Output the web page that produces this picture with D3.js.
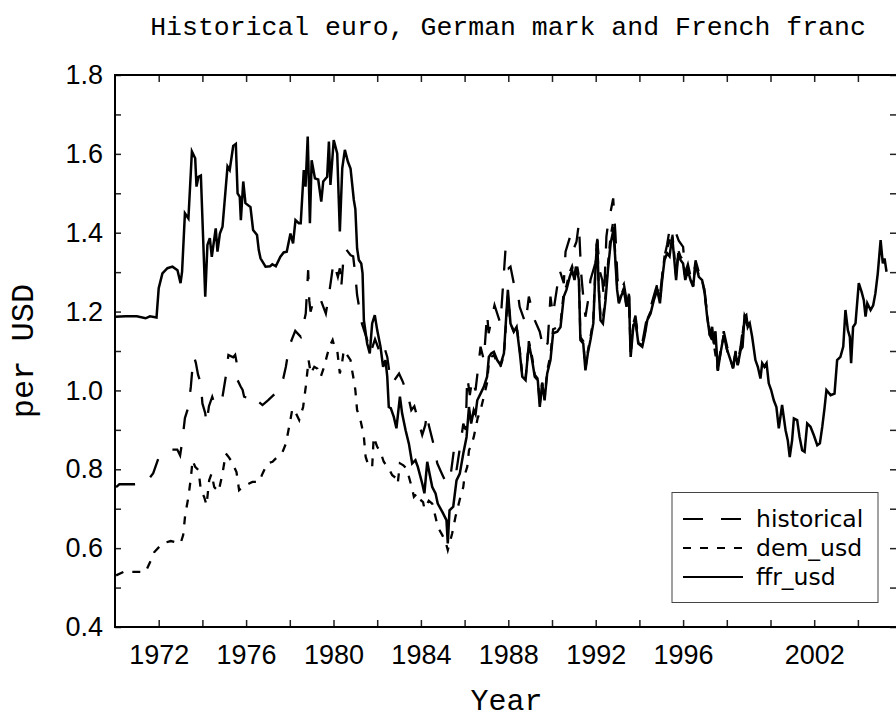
<!DOCTYPE html>
<html>
<head>
<meta charset="utf-8">
<script src="https://cdn.jsdelivr.net/npm/d3@7"></script>
<style>
  body { margin: 0; background: #fff; }
  .tick text { font-family: 'Liberation Sans', sans-serif; font-size: 27px; fill: #000; }
  .tick line { stroke: #222; stroke-width: 1.5; }
  .domain { display: none; }
</style>
</head>
<body>
<div id="chart"></div>
<script>
// series names, in legend order
const seriesNames = ['historical', 'dem_usd', 'ffr_usd'];

// [year, value per USD]
const historical = [
  [1970.05, 0.755], [1970.2, 0.762], [1970.9, 0.762], [1971.4, 0.765], [1971.75, 0.79], [1972.0, 0.83],
  [1972.5, 0.85], [1972.85, 0.85], [1972.98, 0.835], [1973.08, 0.872], [1973.2, 0.93], [1973.36, 0.958],
  [1973.47, 1.009], [1973.55, 1.06], [1973.62, 1.085], [1973.7, 1.07], [1973.8, 1.04], [1973.93, 1.018],
  [1974.0, 0.967], [1974.13, 0.942], [1974.19, 0.916], [1974.3, 0.96], [1974.45, 0.984], [1974.58, 0.962],
  [1974.69, 0.975], [1974.92, 0.984], [1975.07, 1.035], [1975.19, 1.09], [1975.41, 1.084], [1975.5, 1.09],
  [1975.56, 1.073], [1975.61, 1.026], [1975.75, 1.01], [1975.84, 1.001], [1975.91, 0.984], [1976.1, 0.98],
  [1976.41, 0.988], [1976.6, 0.97], [1976.75, 0.963], [1977.0, 0.975], [1977.33, 0.992], [1977.51, 1.009],
  [1977.7, 1.03], [1977.82, 1.06], [1977.97, 1.111], [1978.1, 1.13], [1978.25, 1.151], [1978.5, 1.136],
  [1978.73, 1.195], [1978.84, 1.305], [1978.89, 1.229], [1978.95, 1.2], [1979.1, 1.23], [1979.25, 1.22],
  [1979.42, 1.229], [1979.65, 1.195], [1979.8, 1.246], [1979.9, 1.285], [1980.0, 1.326], [1980.2, 1.288],
  [1980.29, 1.31], [1980.35, 1.259], [1980.45, 1.33], [1980.55, 1.36], [1980.78, 1.343], [1980.9, 1.34],
  [1981.0, 1.293], [1981.08, 1.242], [1981.3, 1.17], [1981.54, 1.128], [1981.69, 1.094], [1981.9, 1.13],
  [1982.1, 1.1], [1982.27, 1.12], [1982.46, 1.085], [1982.55, 1.05], [1982.69, 1.018], [1983.0, 1.043],
  [1983.14, 1.026], [1983.4, 0.99], [1983.56, 0.95], [1983.7, 0.96], [1983.83, 0.933], [1984.06, 0.887],
  [1984.2, 0.912], [1984.28, 0.942], [1984.36, 0.912], [1984.59, 0.861], [1984.75, 0.815], [1984.95, 0.79],
  [1985.17, 0.764], [1985.35, 0.78], [1985.5, 0.844], [1985.63, 0.798], [1985.8, 0.86], [1985.94, 0.916],
  [1986.05, 0.9], [1986.12, 1.035], [1986.24, 0.988], [1986.35, 1.03], [1986.5, 1.0], [1986.73, 1.111],
  [1986.88, 1.077], [1987.03, 1.195], [1987.1, 1.145], [1987.37, 1.216], [1987.64, 1.17], [1987.87, 1.356],
  [1988.02, 1.31], [1988.1, 1.314], [1988.25, 1.272], [1988.41, 1.259], [1988.52, 1.212], [1988.79, 1.17],
  [1988.94, 1.238], [1989.09, 1.204], [1989.21, 1.178], [1989.44, 1.149], [1989.62, 1.102], [1989.8, 1.12],
  [1989.93, 1.238], [1990.04, 1.191], [1990.35, 1.305], [1990.54, 1.272], [1990.62, 1.352], [1990.85, 1.394],
  [1991.0, 1.36], [1991.12, 1.377], [1991.23, 1.424], [1991.33, 1.3], [1991.43, 1.238], [1991.53, 1.187],
  [1991.68, 1.238], [1991.76, 1.28], [1991.96, 1.318], [1992.07, 1.381], [1992.2, 1.3], [1992.3, 1.28],
  [1992.38, 1.234], [1992.49, 1.39], [1992.6, 1.437], [1992.68, 1.453], [1992.8, 1.487], [1992.9, 1.4],
  [1993.0, 1.28], [1993.1, 1.25], [1993.29, 1.27], [1993.41, 1.23], [1993.52, 1.26], [1993.6, 1.11],
  [1993.72, 1.17], [1993.82, 1.19], [1993.95, 1.13], [1994.13, 1.12], [1994.23, 1.15], [1994.36, 1.19],
  [1994.51, 1.21], [1994.66, 1.24], [1994.82, 1.27], [1994.94, 1.24], [1995.04, 1.29], [1995.15, 1.34],
  [1995.27, 1.37], [1995.4, 1.415], [1995.6, 1.41], [1995.8, 1.38], [1996.0, 1.364], [1996.1, 1.3],
  [1996.22, 1.32], [1996.34, 1.29], [1996.46, 1.28], [1996.57, 1.33], [1996.72, 1.3], [1996.87, 1.29],
  [1996.99, 1.25], [1997.1, 1.19], [1997.22, 1.15], [1997.4, 1.13], [1997.59, 1.06], [1997.71, 1.1],
  [1997.86, 1.15], [1998.02, 1.11], [1998.17, 1.08], [1998.29, 1.06], [1998.4, 1.1], [1998.5, 1.07],
  [1998.63, 1.11], [1998.81, 1.19], [1998.96, 1.17], [1999.05, 1.17],
];

const demUsd = [
  [1970.05, 0.531], [1970.4, 0.54], [1971.1, 0.54], [1971.4, 0.54], [1971.64, 0.569], [1971.8, 0.59],
  [1972.17, 0.612], [1972.55, 0.618], [1973.0, 0.612], [1973.12, 0.633], [1973.21, 0.683], [1973.36, 0.73],
  [1973.47, 0.777], [1973.55, 0.823], [1973.67, 0.806], [1973.82, 0.798], [1973.93, 0.747], [1974.08, 0.73],
  [1974.19, 0.709], [1974.31, 0.772], [1974.42, 0.789], [1974.54, 0.755], [1974.74, 0.743], [1974.92, 0.789],
  [1975.07, 0.84], [1975.19, 0.832], [1975.3, 0.823], [1975.45, 0.806], [1975.56, 0.793], [1975.68, 0.747],
  [1975.84, 0.755], [1976.14, 0.764], [1976.29, 0.768], [1976.6, 0.768], [1976.75, 0.789], [1976.98, 0.815],
  [1977.21, 0.819], [1977.44, 0.832], [1977.67, 0.844], [1977.82, 0.865], [1977.97, 0.908], [1978.12, 0.954],
  [1978.28, 0.942], [1978.43, 0.925], [1978.61, 0.958], [1978.73, 1.009], [1978.86, 1.077], [1978.96, 1.043],
  [1979.12, 1.06], [1979.27, 1.055], [1979.42, 1.035], [1979.57, 1.06], [1979.73, 1.094], [1979.88, 1.119],
  [1979.96, 1.128], [1980.05, 1.11], [1980.17, 1.102], [1980.29, 1.043], [1980.4, 1.073], [1980.47, 1.102],
  [1980.62, 1.09], [1980.78, 1.077], [1980.85, 1.051], [1980.93, 1.026], [1981.0, 1.001], [1981.08, 0.95],
  [1981.2, 0.933], [1981.3, 0.908], [1981.39, 0.882], [1981.47, 0.832], [1981.62, 0.806], [1981.77, 0.806],
  [1981.84, 0.882], [1982.0, 0.857], [1982.15, 0.844], [1982.3, 0.819], [1982.53, 0.802], [1982.69, 0.785],
  [1982.88, 0.777], [1982.94, 0.764], [1983.04, 0.815], [1983.2, 0.81], [1983.34, 0.802], [1983.45, 0.781],
  [1983.6, 0.751], [1983.68, 0.73], [1983.83, 0.739], [1983.9, 0.726], [1984.1, 0.717], [1984.16, 0.7],
  [1984.36, 0.72], [1984.52, 0.713], [1984.67, 0.679], [1984.77, 0.654], [1984.98, 0.633], [1985.13, 0.616],
  [1985.23, 0.595], [1985.43, 0.637], [1985.58, 0.679], [1985.81, 0.73], [1985.94, 0.755], [1986.0, 0.785],
  [1986.12, 0.806], [1986.2, 0.848], [1986.3, 0.86], [1986.42, 0.882], [1986.6, 0.93], [1986.73, 0.95],
  [1986.88, 0.984], [1987.03, 1.02], [1987.11, 1.07], [1987.22, 1.085], [1987.34, 1.09], [1987.49, 1.07],
  [1987.64, 1.06], [1987.8, 1.09], [1987.98, 1.24], [1988.1, 1.17], [1988.25, 1.15], [1988.38, 1.165],
  [1988.53, 1.1], [1988.64, 1.04], [1988.79, 1.03], [1988.94, 1.125], [1989.09, 1.085], [1989.21, 1.04],
  [1989.35, 1.03], [1989.44, 0.965], [1989.55, 1.02], [1989.66, 0.98], [1989.78, 1.05], [1989.93, 1.09],
  [1990.05, 1.155], [1990.24, 1.16], [1990.39, 1.17], [1990.54, 1.25], [1990.66, 1.265], [1990.81, 1.3],
  [1990.92, 1.315], [1991.03, 1.29], [1991.12, 1.325], [1991.23, 1.29], [1991.3, 1.135], [1991.43, 1.125],
  [1991.53, 1.055], [1991.64, 1.1], [1991.76, 1.135], [1991.89, 1.18], [1992.0, 1.33], [1992.07, 1.39],
  [1992.14, 1.265], [1992.22, 1.185], [1992.33, 1.18], [1992.45, 1.24], [1992.56, 1.32], [1992.68, 1.39],
  [1992.81, 1.43], [1992.88, 1.36], [1992.98, 1.265], [1993.06, 1.225], [1993.29, 1.26], [1993.41, 1.215],
  [1993.52, 1.245], [1993.6, 1.09], [1993.72, 1.165], [1993.82, 1.18], [1993.95, 1.12], [1994.13, 1.115],
  [1994.23, 1.14], [1994.36, 1.18], [1994.51, 1.2], [1994.66, 1.235], [1994.82, 1.26], [1994.94, 1.225],
  [1995.04, 1.285], [1995.15, 1.34], [1995.27, 1.36], [1995.5, 1.4], [1995.57, 1.36], [1995.68, 1.29],
  [1995.78, 1.355], [1995.88, 1.34], [1996.0, 1.33], [1996.1, 1.285], [1996.22, 1.31], [1996.34, 1.285],
  [1996.46, 1.265], [1996.57, 1.325], [1996.72, 1.29], [1996.87, 1.28], [1996.99, 1.25], [1997.1, 1.19],
  [1997.22, 1.14], [1997.4, 1.12], [1997.59, 1.05], [1997.71, 1.095], [1997.86, 1.14], [1998.02, 1.1],
  [1998.17, 1.08], [1998.29, 1.055], [1998.4, 1.095], [1998.5, 1.065], [1998.63, 1.1], [1998.81, 1.185],
  [1998.96, 1.16], [1999.05, 1.17],
];

const ffrUsd = [
  [1970.0, 1.187], [1970.5, 1.188], [1971.0, 1.188], [1971.4, 1.183], [1971.6, 1.188], [1971.9, 1.185],
  [1972.0, 1.259], [1972.17, 1.297], [1972.4, 1.31], [1972.63, 1.314], [1972.86, 1.305], [1973.0, 1.272],
  [1973.07, 1.301], [1973.2, 1.449], [1973.36, 1.436], [1973.52, 1.606], [1973.67, 1.589], [1973.73, 1.517],
  [1973.82, 1.542], [1973.93, 1.545], [1974.13, 1.238], [1974.23, 1.369], [1974.34, 1.386], [1974.43, 1.339],
  [1974.61, 1.411], [1974.69, 1.352], [1974.8, 1.398], [1974.92, 1.415], [1975.15, 1.568], [1975.25, 1.559],
  [1975.41, 1.62], [1975.53, 1.625], [1975.61, 1.5], [1975.71, 1.491], [1975.76, 1.432], [1975.87, 1.53],
  [1975.97, 1.475], [1976.2, 1.465], [1976.32, 1.407], [1976.5, 1.394], [1976.58, 1.356], [1976.66, 1.335],
  [1976.89, 1.314], [1977.1, 1.315], [1977.2, 1.32], [1977.36, 1.315], [1977.57, 1.339], [1977.72, 1.35],
  [1977.86, 1.352], [1978.03, 1.398], [1978.15, 1.373], [1978.26, 1.432], [1978.41, 1.424], [1978.5, 1.424],
  [1978.64, 1.559], [1978.72, 1.517], [1978.82, 1.644], [1978.92, 1.424], [1979.0, 1.584], [1979.15, 1.538],
  [1979.3, 1.535], [1979.44, 1.479], [1979.53, 1.53], [1979.71, 1.542], [1979.79, 1.631], [1979.86, 1.521],
  [1980.01, 1.635], [1980.17, 1.601], [1980.29, 1.403], [1980.4, 1.563], [1980.52, 1.61], [1980.66, 1.58],
  [1980.78, 1.563], [1980.93, 1.483], [1981.0, 1.46], [1981.08, 1.36], [1981.16, 1.331], [1981.27, 1.322],
  [1981.33, 1.297], [1981.39, 1.178], [1981.54, 1.119], [1981.66, 1.094], [1981.77, 1.17], [1981.89, 1.191],
  [1982.0, 1.153], [1982.15, 1.111], [1982.27, 1.06], [1982.38, 1.077], [1982.46, 1.035], [1982.53, 0.958],
  [1982.62, 0.955], [1982.76, 0.933], [1982.88, 0.904], [1983.04, 0.984], [1983.14, 0.942], [1983.3, 0.899],
  [1983.45, 0.865], [1983.6, 0.815], [1983.75, 0.823], [1983.86, 0.806], [1984.06, 0.764], [1984.16, 0.739],
  [1984.29, 0.819], [1984.41, 0.785], [1984.52, 0.755], [1984.67, 0.739], [1984.77, 0.713], [1984.98, 0.692],
  [1985.17, 0.671], [1985.23, 0.612], [1985.31, 0.696], [1985.48, 0.705], [1985.63, 0.772], [1985.78, 0.789],
  [1985.94, 0.84], [1986.09, 0.882], [1986.2, 0.958], [1986.3, 0.916], [1986.42, 0.95], [1986.5, 0.94],
  [1986.58, 0.975], [1986.73, 0.992], [1986.88, 1.009], [1987.03, 1.035], [1987.11, 1.085], [1987.22, 1.094],
  [1987.34, 1.098], [1987.49, 1.077], [1987.64, 1.065], [1987.8, 1.094], [1987.98, 1.255], [1988.1, 1.17],
  [1988.25, 1.149], [1988.38, 1.161], [1988.53, 1.094], [1988.64, 1.035], [1988.79, 1.026], [1988.94, 1.119],
  [1989.09, 1.077], [1989.21, 1.035], [1989.35, 1.026], [1989.44, 0.958], [1989.55, 1.018], [1989.66, 0.975],
  [1989.78, 1.043], [1989.93, 1.077], [1990.05, 1.145], [1990.24, 1.149], [1990.39, 1.161], [1990.54, 1.238],
  [1990.66, 1.255], [1990.81, 1.288], [1990.92, 1.305], [1991.03, 1.28], [1991.12, 1.314], [1991.23, 1.28],
  [1991.3, 1.128], [1991.43, 1.119], [1991.53, 1.051], [1991.64, 1.094], [1991.76, 1.128], [1991.89, 1.17],
  [1992.0, 1.322], [1992.07, 1.381], [1992.14, 1.255], [1992.22, 1.178], [1992.33, 1.17], [1992.45, 1.229],
  [1992.56, 1.305], [1992.68, 1.372], [1992.81, 1.407], [1992.88, 1.348], [1992.98, 1.255], [1993.06, 1.221],
  [1993.17, 1.24], [1993.29, 1.255], [1993.41, 1.212], [1993.52, 1.242], [1993.6, 1.085], [1993.72, 1.161],
  [1993.82, 1.178], [1993.95, 1.119], [1994.13, 1.111], [1994.23, 1.136], [1994.36, 1.178], [1994.51, 1.195],
  [1994.66, 1.229], [1994.82, 1.255], [1994.94, 1.221], [1995.04, 1.28], [1995.15, 1.331], [1995.27, 1.348],
  [1995.38, 1.34], [1995.5, 1.39], [1995.57, 1.348], [1995.68, 1.28], [1995.78, 1.348], [1995.88, 1.331],
  [1996.0, 1.322], [1996.1, 1.28], [1996.22, 1.305], [1996.34, 1.28], [1996.46, 1.263], [1996.57, 1.322],
  [1996.72, 1.288], [1996.87, 1.28], [1996.99, 1.246], [1997.1, 1.187], [1997.22, 1.14], [1997.33, 1.161],
  [1997.4, 1.119], [1997.48, 1.15], [1997.59, 1.051], [1997.71, 1.094], [1997.86, 1.14], [1998.02, 1.102],
  [1998.17, 1.077], [1998.29, 1.056], [1998.4, 1.094], [1998.5, 1.064], [1998.63, 1.102], [1998.72, 1.11],
  [1998.81, 1.187], [1998.89, 1.191], [1998.96, 1.161], [1999.05, 1.17], [1999.16, 1.136], [1999.31, 1.077],
  [1999.42, 1.06], [1999.54, 1.03], [1999.62, 1.069], [1999.72, 1.06], [1999.82, 1.069], [1999.92, 1.018],
  [2000.03, 1.001], [2000.15, 0.975], [2000.27, 0.958], [2000.38, 0.904], [2000.53, 0.963], [2000.69, 0.899],
  [2000.79, 0.874], [2000.88, 0.831], [2000.99, 0.874], [2001.07, 0.929], [2001.22, 0.925], [2001.33, 0.882],
  [2001.45, 0.848], [2001.56, 0.844], [2001.68, 0.916], [2001.83, 0.908], [2001.98, 0.887], [2002.14, 0.861],
  [2002.26, 0.866], [2002.37, 0.908], [2002.47, 0.954], [2002.56, 1.001], [2002.75, 0.988], [2002.93, 0.992],
  [2003.05, 1.077], [2003.2, 1.085], [2003.33, 1.111], [2003.43, 1.204], [2003.54, 1.153], [2003.63, 1.136],
  [2003.69, 1.069], [2003.78, 1.161], [2003.89, 1.17], [2004.04, 1.272], [2004.17, 1.25], [2004.27, 1.229],
  [2004.35, 1.187], [2004.43, 1.221], [2004.58, 1.204], [2004.7, 1.216], [2004.8, 1.246], [2004.91, 1.297],
  [2005.04, 1.381], [2005.14, 1.322], [2005.22, 1.335], [2005.31, 1.301],
];

// axis ticks
const xTickYears = d3.range(1972, 2005, 2);
const xLabelYears = [1972, 1976, 1980, 1984, 1988, 1992, 1996, 2002];
const yTickValues = d3.range(4, 19).map(d => d / 10);
const yLabelValues = [0.4, 0.6, 0.8, 1.0, 1.2, 1.4, 1.6, 1.8];

const margin = {
  top: 75, right: -2, bottom: 92, left: 115,
};
const width = 896 - margin.left - margin.right;
const height = 719 - margin.top - margin.bottom;

const xScale = d3.scaleLinear()
  .domain([1970, 1970 + width / 21.85])
  .range([0, width]);

const yScale = d3.scaleLinear()
  .domain([0.4, 1.8])
  .range([height, 0]);

const dashes = { historical: '20,18', dem_usd: '8,9', ffr_usd: null };

const line = d3.line()
  .x(d => xScale(d[0]))
  .y(d => yScale(d[1]));

const root = d3.select('#chart').append('svg')
  .attr('width', 896)
  .attr('height', 719);

const svg = root.append('g')
  .attr('transform', `translate(${margin.left},${margin.top})`);

svg.append('defs')
  .append('clipPath')
  .attr('id', 'clip')
  .append('rect')
  .attr('width', width)
  .attr('height', height);

const series = seriesNames.map((name, i) => ({
  name,
  values: [historical, demUsd, ffrUsd][i],
}));

svg.selectAll('.series')
  .data(series)
  .enter().append('path')
  .attr('class', 'series')
  .attr('clip-path', 'url(#clip)')
  .attr('d', d => line(d.values))
  .style('fill', 'none')
  .style('stroke', '#000')
  .style('stroke-width', d => (d.name === 'ffr_usd' ? 2.5 : 2.3))
  .style('stroke-dasharray', d => dashes[d.name]);

// axes, ticks pointing inward
svg.append('g')
  .attr('class', 'x axis')
  .attr('transform', `translate(0,${height})`)
  .call(d3.axisBottom(xScale)
    .tickValues(xTickYears)
    .tickSizeInner(-7)
    .tickSizeOuter(0)
    .tickPadding(18)
    .tickFormat(d => (xLabelYears.includes(d) ? d : '')));

svg.append('g')
  .attr('class', 'x axis top')
  .call(d3.axisTop(xScale)
    .tickValues(xTickYears)
    .tickSizeInner(-7)
    .tickSizeOuter(0)
    .tickFormat(''));

svg.append('g')
  .attr('class', 'y axis')
  .call(d3.axisLeft(yScale)
    .tickValues(yTickValues)
    .tickSizeInner(-6)
    .tickSizeOuter(0)
    .tickPadding(12)
    .tickFormat(d => (yLabelValues.some(v => Math.abs(v - d) < 1e-6) ? d3.format('.1f')(d) : '')));

svg.append('g')
  .attr('class', 'y axis right')
  .attr('transform', `translate(${width},0)`)
  .call(d3.axisRight(yScale)
    .tickValues(yTickValues)
    .tickSizeInner(-8)
    .tickSizeOuter(0)
    .tickFormat(''));

// frame
svg.append('rect')
  .attr('width', width)
  .attr('height', height)
  .style('fill', 'none')
  .style('stroke', '#000')
  .style('stroke-width', 2);

// titles
root.append('text')
  .attr('x', 508)
  .attr('y', 35)
  .style('text-anchor', 'middle')
  .style('font-family', 'Liberation Mono, monospace')
  .style('font-size', '26.5px')
  .text('Historical euro, German mark and French franc');

root.append('text')
  .attr('x', margin.left + width / 2)
  .attr('y', 710)
  .style('text-anchor', 'middle')
  .style('font-family', 'Liberation Mono, monospace')
  .style('font-size', '30px')
  .text('Year');

root.append('text')
  .attr('transform', 'translate(33,351) rotate(-90)')
  .style('text-anchor', 'middle')
  .style('font-family', 'Liberation Mono, monospace')
  .style('font-size', '32px')
  .text('per USD');

// legend
const legend = root.append('g')
  .attr('transform', 'translate(672,492.5)');

legend.append('rect')
  .attr('width', 206)
  .attr('height', 110)
  .style('fill', '#fff')
  .style('stroke', '#444')
  .style('stroke-width', 1);

const legendItem = legend.selectAll('.legend-item')
  .data(seriesNames)
  .enter().append('g')
  .attr('class', 'legend-item')
  .attr('transform', (d, i) => `translate(0,${26.5 + i * 29})`);

legendItem.append('line')
  .attr('x1', 11)
  .attr('x2', 71)
  .style('stroke', '#000')
  .style('stroke-width', 2)
  .style('stroke-dasharray', d => dashes[d]);

legendItem.append('text')
  .attr('x', 84)
  .attr('y', 8)
  .style('font-family', 'DejaVu Sans, sans-serif')
  .style('font-size', '23.5px')
  .text(d => d);
</script>
</body>
</html>
